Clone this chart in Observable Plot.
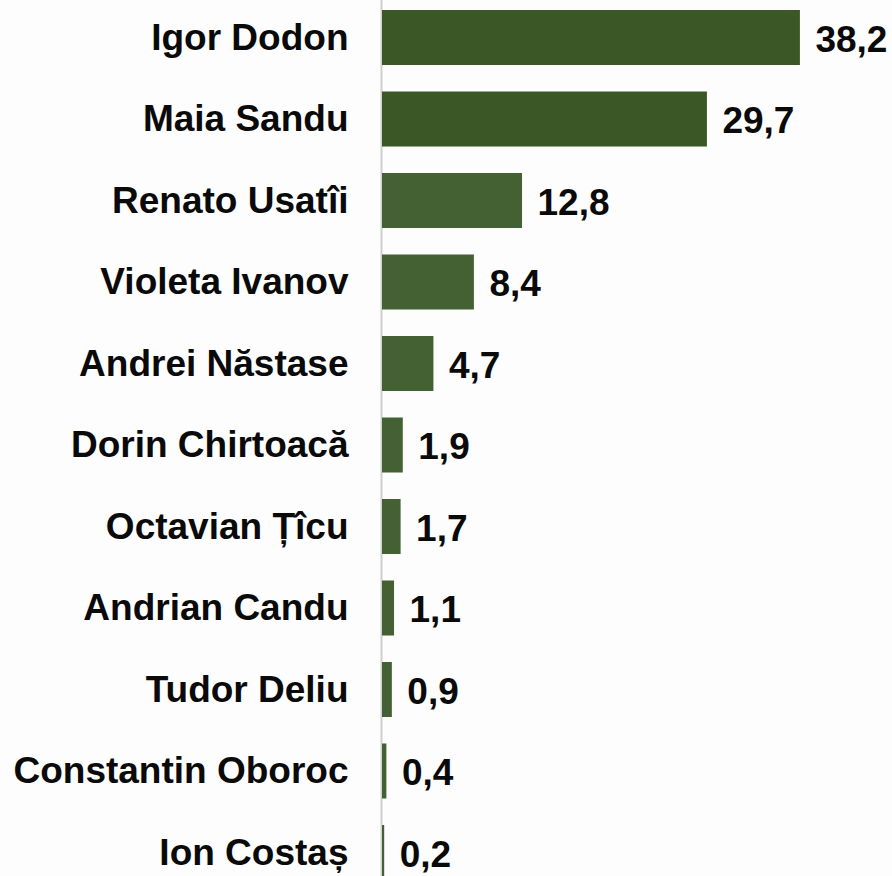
<!DOCTYPE html>
<html>
<head>
<meta charset="utf-8">
<script src="https://cdn.jsdelivr.net/npm/d3@7"></script>
<script src="https://cdn.jsdelivr.net/npm/@observablehq/plot@0.6"></script>
<style>
  html, body { margin: 0; padding: 0; background: #fdfdfd; overflow: hidden; }
  #chart svg { display: block; background: transparent; }
</style>
</head>
<body>
<div id="chart"></div>
<script>
const candidates = ["Igor Dodon", "Maia Sandu", "Renato Usatîi", "Violeta Ivanov", "Andrei Năstase", "Dorin Chirtoacă", "Octavian Țîcu", "Andrian Candu", "Tudor Deliu", "Constantin Oboroc", "Ion Costaș"];
const values = [38.2, 29.7, 12.8, 8.4, 4.7, 1.9, 1.7, 1.1, 0.9, 0.4, 0.2];
const tiers = ["top", "top", "rest", "rest", "rest", "rest", "rest", "rest", "rest", "rest", "rest"];

const data = candidates.map((name, i) => ({name, value: values[i], tier: tiers[i]}));
const fmt = v => v.toFixed(1).replace(".", ",");

const chart = Plot.plot({
  width: 892,
  height: 876,
  marginLeft: 381,
  marginRight: 0,
  marginTop: 0,
  marginBottom: 0,
  style: {fontFamily: "'Liberation Sans', Arial, sans-serif", background: "transparent"},
  x: {domain: [0, 40], range: [382, 819.6], axis: null},
  y: {domain: candidates, range: [10, 880], paddingInner: 0.325, paddingOuter: 0, round: false, label: null},
  color: {domain: ["top", "rest"], range: ["#3b5726", "#436132"]},
  marks: [
    Plot.ruleX([0], {stroke: "#cfcfcf", strokeWidth: 2, dx: -1}),
    Plot.barX(data, {x: "value", y: "name", fill: "tier"}),
    Plot.text(data, {x: "value", y: "name", text: d => fmt(d.value), textAnchor: "start", dx: 15, dy: 2, fontSize: 37, fontWeight: "bold", fill: "#0a0a0a"}),
    Plot.axisY({tickSize: 0, tickPadding: 33, fontSize: 37, fontWeight: "bold", fill: "#0a0a0a", label: null})
  ]
});
document.getElementById("chart").appendChild(chart);
</script>
</body>
</html>
